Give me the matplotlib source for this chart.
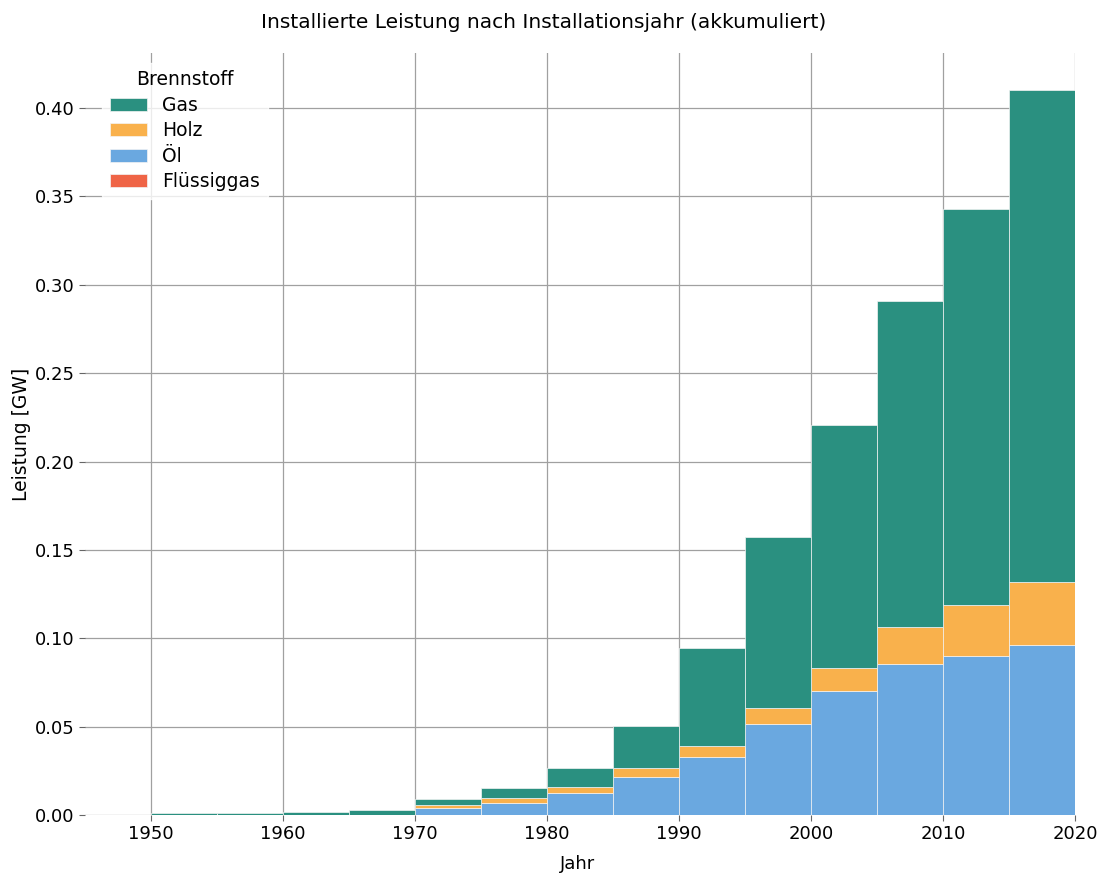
import numpy as np
import matplotlib.pyplot as plt

# Bin-Startjahre (5-Jahres-Klassen) und akkumulierte Leistung je Brennstoff [GW]
jahre = [1950, 1955, 1960, 1965, 1970, 1975, 1980, 1985, 1990, 1995, 2000, 2005, 2010, 2015]
gas = [0.0012, 0.0012, 0.0014, 0.0025, 0.0034, 0.0057, 0.0107, 0.0241, 0.0553, 0.0972, 0.1376, 0.1843, 0.2240, 0.2780]
holz = [0.0, 0.0, 0.0001, 0.0002, 0.0014, 0.0024, 0.0036, 0.0048, 0.0064, 0.0088, 0.0127, 0.0212, 0.0288, 0.0358]
oel = [0.0, 0.0, 0.0, 0.0, 0.0039, 0.0068, 0.0122, 0.0214, 0.0324, 0.0513, 0.0701, 0.0852, 0.0898, 0.0960]
fluessiggas = [0.0, 0.0, 0.0, 0.0, 0.0002, 0.0002, 0.0002, 0.0002, 0.0002, 0.0002, 0.0002, 0.0002, 0.0002, 0.0002]

farben = {'Gas': '#2a9080', 'Holz': '#f9b14c', 'Öl': '#6aa8e0', 'Flüssiggas': '#ef6446'}

fig = plt.figure(figsize=(11.03, 8.74), dpi=100)
ax = fig.add_axes([0.077, 0.0675, 0.8976, 0.8715])

# gestapelt von unten nach oben: Flüssiggas, Öl, Holz, Gas
unten = np.zeros(len(jahre))
handles = {}
for name, werte in [('Flüssiggas', fluessiggas), ('Öl', oel), ('Holz', holz), ('Gas', gas)]:
    h = ax.bar(jahre, werte, width=5, align='edge', bottom=unten, color=farben[name],
               edgecolor='#f4f4f4', linewidth=0.5, zorder=2, label=name)
    handles[name] = h
    unten = unten + np.array(werte)

ax.set_xlim(1945, 2020)
ax.set_ylim(0, 0.431)
ax.set_xticks([1950, 1960, 1970, 1980, 1990, 2000, 2010, 2020])
ax.set_yticks(np.arange(0, 0.41, 0.05))
ax.yaxis.set_major_formatter(plt.FormatStrFormatter('%.2f'))
ax.grid(True, color='#a0a0a0', linewidth=0.9, zorder=0)
ax.set_axisbelow(True)
for s in ax.spines.values():
    s.set_visible(False)
ax.tick_params(labelsize=13, color='#666666', length=4)

fig.suptitle('Installierte Leistung nach Installationsjahr (akkumuliert)', fontsize=14.5,
             x=0.493, y=0.985)
ax.set_xlabel('Jahr', fontsize=13)
ax.xaxis.set_label_coords(0.498, -0.053)
ax.set_ylabel('Leistung [GW]', fontsize=13.5)
ax.yaxis.set_label_coords(-0.0545, 0.5)

order = ['Gas', 'Holz', 'Öl', 'Flüssiggas']
ax.legend([handles[n] for n in order], order, title='Brennstoff', loc='upper left',
          fontsize=13.5, title_fontsize=13.5, framealpha=0.8, edgecolor='white',
          bbox_to_anchor=(0.008, 1.0), labelspacing=0.35)

fig.savefig('out.png', dpi=100)
